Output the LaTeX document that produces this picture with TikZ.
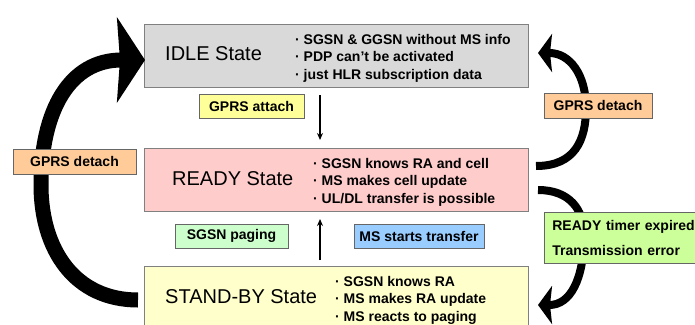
\documentclass[tikz,border=0pt]{standalone}
\usepackage{fontspec}
\setmainfont{Liberation Sans}
\usetikzlibrary{arrows.meta}

\definecolor{idlegray}{HTML}{D9D9D9}
\definecolor{readypink}{HTML}{FFCCCC}
\definecolor{standbyyellow}{HTML}{FFFFCC}
\definecolor{attachyellow}{HTML}{FFFF99}
\definecolor{paginggreen}{HTML}{CCFFCC}
\definecolor{transferblue}{HTML}{99CCFF}
\definecolor{detachorange}{HTML}{FFCC99}
\definecolor{timergreen}{HTML}{CCFF99}

\begin{document}
\begin{tikzpicture}[x=1pt,y=-1pt,
    statebox/.style={draw=gray, line width=1pt, anchor=north west,
        minimum width=384pt, minimum height=63pt, inner sep=0pt},
    statename/.style={anchor=west, inner sep=0pt, font=\fontsize{20}{24}\selectfont},
    stateinfo/.style={anchor=west, inner sep=0pt, align=left,
        font=\bfseries\fontsize{14}{17.5}\selectfont},
    eventbox/.style={draw=gray!80!black, line width=0.7pt, minimum height=24pt,
        inner sep=0pt, font=\bfseries\fontsize{14}{17}\selectfont},
    bigarrow/.style={line width=15pt, -{Stealth[length=28pt,width=85pt,inset=3pt]}},
    midarrow/.style={line width=8pt, -{Stealth[length=14pt,width=38pt,inset=2pt]}},
    thinarrow/.style={line width=1.4pt, -{Stealth[length=7pt,width=6pt]}}]

    \clip (0,0) rectangle (695,324);

    % the three states
    \node[statebox, fill=idlegray] (idle) at (144,24) {};
    \node[statebox, fill=readypink] (ready) at (144,148) {};
    \node[statebox, fill=standbyyellow, minimum height=70pt] (standby) at (144,266) {};

    \node[statename] (idlename) at (165,54) {IDLE State};
    \node[statename] (readyname) at (172,179) {READY State};
    \node[statename] (standbyname) at (165,297) {STAND-BY State};

    \node[stateinfo] (idleinfo) at (295,58)
        {· SGSN \& GGSN without MS info\\· PDP can’t be activated\\· just HLR subscription data};
    \node[stateinfo] (readyinfo) at (313,182)
        {· SGSN knows RA and cell\\· MS makes cell update\\· UL/DL transfer is possible};
    \node[stateinfo] (standbyinfo) at (335,300)
        {· SGSN knows RA\\· MS makes RA update\\· MS reacts to paging};

    % transitions
    \draw[thinarrow] ([shift={(176,7)}]idle.south west) -- ([shift={(176,-8)}]ready.north west);
    \draw[thinarrow] ([shift={(176,-6)}]standby.north west) -- ([shift={(176,7)}]ready.south west);

    \draw[bigarrow] ([shift={(-6,34)}]standby.north west)
        .. controls (75,300) and (41,250) .. (41,185)
        .. controls (41,110) and (70,60) .. ([shift={(1,36)}]idle.north west);
    \draw[midarrow] ([shift={(7,18)}]ready.north east)
        .. controls (575,166) and (586,140) .. (586,108)
        .. controls (586,75) and (570,53) .. ([shift={(9,29)}]idle.north east);
    \draw[midarrow] ([shift={(9,42)}]ready.north east)
        .. controls (570,190) and (584,210) .. (584,235)
        .. controls (584,280) and (570,305) .. ([shift={(9,39)}]standby.north east);

    % events
    \node[eventbox, fill=attachyellow, minimum width=105pt] (attach) at (251.5,106) {GPRS attach};
    \node[eventbox, fill=paginggreen, minimum width=113pt] (paging) at (231.5,236) {SGSN paging};
    \node[eventbox, fill=transferblue, minimum width=130pt] (transfer) at (419,236) {MS starts transfer};
    \node[eventbox, fill=detachorange, minimum width=123pt, minimum height=25pt] (detachleft) at (74.5,161.5) {GPRS detach};
    \node[eventbox, fill=detachorange, minimum width=108pt, minimum height=25pt] (detachright) at (598,105.5) {GPRS detach};
    \node[eventbox, fill=timergreen, anchor=north west, minimum height=51pt, inner xsep=8pt,
        text width=154pt, align=left, font=\bfseries\fontsize{14}{25}\selectfont] (timer) at (544,212)
        {READY timer expired\\Transmission error};
\end{tikzpicture}
\end{document}
